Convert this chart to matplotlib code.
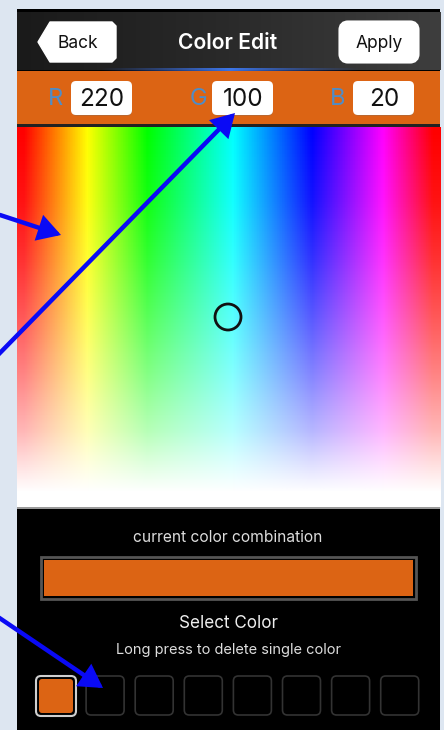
import matplotlib
matplotlib.use('Agg')
import matplotlib.pyplot as plt
from matplotlib.patches import FancyBboxPatch, Polygon, Circle, Rectangle, FancyArrowPatch
from matplotlib.colors import LinearSegmentedColormap
import numpy as np

plt.rcParams['font.family'] = ['Inter', 'DejaVu Sans']

# 数据
rgb_labels = ['R', 'G', 'B']
rgb_values = [220, 100, 20]
title = 'Color Edit'
btn_labels = ['Back', 'Apply']
bottom_texts = ['current color combination', 'Select Color', 'Long press to delete single color']
n_swatches = 8
swatch_filled = [True, False, False, False, False, False, False, False]

# 色相渐变 (位置比例, 颜色)
hue_pos = [0.0, 0.015, 0.165, 0.307, 0.51, 0.697, 0.865, 0.983, 1.0]
hue_cols = ['#ff0000', '#ff0000', '#ffff00', '#00ff00', '#00ffff', '#0000ff', '#ff00ff', '#ff0000', '#ff0000']
# 白色渐隐 (位置比例, 透明度)
fade_pos = [0.0, 0.2, 0.35, 0.5, 0.65, 0.8, 0.9, 0.96, 1.0]
fade_alpha = [0.0, 0.08, 0.2, 0.35, 0.52, 0.72, 0.9, 1.0, 1.0]

# 箭头 (起点, 终点)
arrows = [((0, 215), (61, 235)), ((-5, 358), (235, 113)), ((-2, 617), (103, 688))]

W, H = 444, 730
orange = np.array(rgb_values) / 255.0

fig = plt.figure(figsize=(W / 100, H / 100), dpi=100)
ax = fig.add_axes([0, 0, 1, 1])
ax.set_xlim(0, W)
ax.set_ylim(H, 0)
ax.axis('off')
fig.patch.set_facecolor('#dde6f1')

# 手机屏幕
ax.add_patch(Rectangle((17, 9), 423, 721, facecolor='black', edgecolor='none'))

# 导航栏
nav_cmap = LinearSegmentedColormap.from_list('nav', ['#1a1a1a', '#2a2a2a', '#3e3e3e'])
ax.imshow(np.linspace(0, 1, 256)[None, :], cmap=nav_cmap, extent=(17, 440, 70, 12),
          aspect='auto', zorder=1)
glow = LinearSegmentedColormap.from_list('glow', [(0, (0.2, 0.4, 0.9, 0)), (0.5, (0.25, 0.5, 1, 0.9)),
                                                  (1, (0.2, 0.4, 0.9, 0))])
ax.imshow(np.linspace(0, 1, 256)[None, :], cmap=glow, extent=(100, 360, 71.5, 69),
          aspect='auto', zorder=2)

back = Polygon([(38, 42), (50, 22), (112, 22), (116, 26), (116, 58), (112, 62), (50, 62)],
               closed=True, facecolor='white', edgecolor='white', lw=1, joinstyle='round', zorder=3)
ax.add_patch(back)
ax.text(78, 43, btn_labels[0], ha='center', va='center', fontsize=12.5, color='#111111', zorder=4)
ax.add_patch(FancyBboxPatch((344, 26), 70, 32, boxstyle='round,pad=0,rounding_size=4',
                            facecolor='white', edgecolor='white', lw=8, zorder=3))
ax.text(379, 43, btn_labels[1], ha='center', va='center', fontsize=12.5, color='#111111', zorder=4)
ax.text(228, 43, title, ha='center', va='center', fontsize=15.2, fontweight='semibold',
        color='white', zorder=4)

# RGB 栏
ax.add_patch(Rectangle((17, 71), 423, 53, facecolor=orange, edgecolor='none', zorder=1))
ax.add_patch(Rectangle((17, 124), 423, 3, facecolor='#222222', edgecolor='none', zorder=1))
label_x = [55, 198, 338]
box_x = [71, 212, 353]
for lab, val, lx, bx in zip(rgb_labels, rgb_values, label_x, box_x):
    ax.text(lx, 99, lab, ha='center', va='center', fontsize=17, color='#4f8cc6', zorder=3)
    ax.add_patch(FancyBboxPatch((bx + 1, 82), 60, 34, boxstyle='round,pad=0,rounding_size=5',
                                facecolor='#9a6a4a', edgecolor='none', alpha=0.5, zorder=2))
    ax.add_patch(FancyBboxPatch((bx, 81), 61, 34, boxstyle='round,pad=0,rounding_size=5',
                                facecolor='white', edgecolor='none', zorder=3))
    ax.text(bx + 31, 99, str(val), ha='center', va='center', fontsize=17.5,
            color='#111111', zorder=4)

# 色板
hue_cmap = LinearSegmentedColormap.from_list('hue', list(zip(hue_pos, hue_cols)))
ax.imshow(np.linspace(0, 1, 512)[None, :], cmap=hue_cmap, extent=(17, 440, 507, 127),
          aspect='auto', zorder=2)
fade_cmap = LinearSegmentedColormap.from_list(
    'fade', [(p, (1, 1, 1, a)) for p, a in zip(fade_pos, fade_alpha)])
ax.imshow(np.linspace(0, 1, 512)[:, None], cmap=fade_cmap, extent=(17, 440, 507, 127),
          aspect='auto', origin='upper', zorder=3)
ax.add_patch(Rectangle((17, 507), 423, 2, facecolor='#9a9a9a', edgecolor='none', zorder=3))
ax.add_patch(Circle((228, 317), 13, facecolor='none', edgecolor='#111111', lw=2, zorder=4))

# 底部区域
ax.text(228, 538, bottom_texts[0], ha='center', va='center', fontsize=11.2, color='#dddddd', zorder=3)
ax.add_patch(Rectangle((41, 557), 375, 42, facecolor='black', edgecolor='#555555', lw=2, zorder=3))
ax.add_patch(Rectangle((44, 560), 369, 36, facecolor=orange, edgecolor='none', zorder=4))
ax.text(228, 623, bottom_texts[1], ha='center', va='center', fontsize=12.3, color='#eeeeee', zorder=3)
ax.text(228, 650, bottom_texts[2], ha='center', va='center', fontsize=10.5, color='#dddddd', zorder=3)

for i, filled in enumerate(swatch_filled):
    x0 = 36 + i * 49.1
    if filled:
        ax.add_patch(FancyBboxPatch((x0, 676), 40, 40, boxstyle='round,pad=0,rounding_size=5',
                                    facecolor='black', edgecolor='#cfcfcf', lw=1.5, zorder=3))
        ax.add_patch(FancyBboxPatch((x0 + 3, 679), 34, 34, boxstyle='round,pad=0,rounding_size=3',
                                    facecolor=orange, edgecolor='none', zorder=4))
    else:
        ax.add_patch(FancyBboxPatch((x0 + 1, 676), 38, 39, boxstyle='round,pad=0,rounding_size=5',
                                    facecolor='black', edgecolor='#333333', lw=1.2, zorder=3))

# 蓝色箭头
for (x1, y1), (x2, y2) in arrows:
    arr = FancyArrowPatch((x1, y1), (x2, y2), arrowstyle='-|>,head_length=12,head_width=7',
                          mutation_scale=1, color='#0a0af5', lw=3.2, shrinkA=0, shrinkB=0,
                          joinstyle='miter', zorder=10)
    ax.add_patch(arr)

plt.savefig('out.png', dpi=100)
